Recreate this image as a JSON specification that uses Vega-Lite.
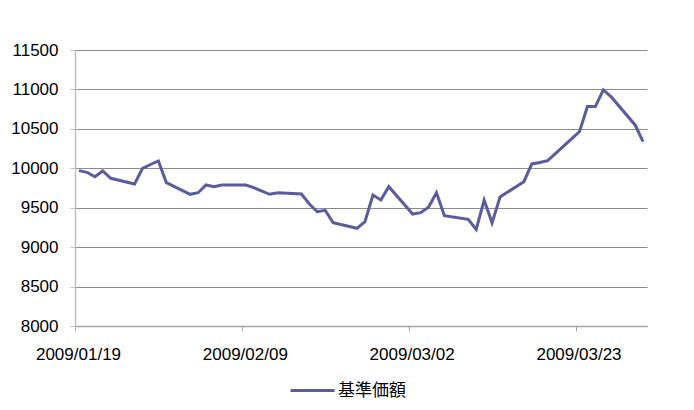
{
  "$schema": "https://vega.github.io/schema/vega-lite/v6.json",
  "width": 572,
  "height": 276,
  "autosize": {"type": "none"},
  "padding": {"left": 75, "top": 50, "right": 47, "bottom": 84},
  "background": "white",
  "config": {
    "view": {"stroke": null},
    "font": "Liberation Sans"
  },
  "data": {
    "values": [
      {"date": "2009/01/19", "value": 9970},
      {"date": "2009/01/20", "value": 9949},
      {"date": "2009/01/21", "value": 9893},
      {"date": "2009/01/22", "value": 9966},
      {"date": "2009/01/23", "value": 9873},
      {"date": "2009/01/26", "value": 9801},
      {"date": "2009/01/27", "value": 10000},
      {"date": "2009/01/28", "value": 10048},
      {"date": "2009/01/29", "value": 10093},
      {"date": "2009/01/30", "value": 9817},
      {"date": "2009/02/02", "value": 9670},
      {"date": "2009/02/03", "value": 9690},
      {"date": "2009/02/04", "value": 9788},
      {"date": "2009/02/05", "value": 9767},
      {"date": "2009/02/06", "value": 9788},
      {"date": "2009/02/09", "value": 9788},
      {"date": "2009/02/10", "value": 9754},
      {"date": "2009/02/12", "value": 9670},
      {"date": "2009/02/13", "value": 9690},
      {"date": "2009/02/16", "value": 9674},
      {"date": "2009/02/17", "value": 9547},
      {"date": "2009/02/18", "value": 9449},
      {"date": "2009/02/19", "value": 9467},
      {"date": "2009/02/20", "value": 9310},
      {"date": "2009/02/23", "value": 9239},
      {"date": "2009/02/24", "value": 9322},
      {"date": "2009/02/25", "value": 9661},
      {"date": "2009/02/26", "value": 9598},
      {"date": "2009/02/27", "value": 9767},
      {"date": "2009/03/02", "value": 9420},
      {"date": "2009/03/03", "value": 9437},
      {"date": "2009/03/04", "value": 9505},
      {"date": "2009/03/05", "value": 9690},
      {"date": "2009/03/06", "value": 9398},
      {"date": "2009/03/09", "value": 9353},
      {"date": "2009/03/10", "value": 9225},
      {"date": "2009/03/11", "value": 9598},
      {"date": "2009/03/12", "value": 9308},
      {"date": "2009/03/13", "value": 9636},
      {"date": "2009/03/16", "value": 9830},
      {"date": "2009/03/17", "value": 10055},
      {"date": "2009/03/18", "value": 10074},
      {"date": "2009/03/19", "value": 10096},
      {"date": "2009/03/23", "value": 10464},
      {"date": "2009/03/24", "value": 10782},
      {"date": "2009/03/25", "value": 10782},
      {"date": "2009/03/26", "value": 10994},
      {"date": "2009/03/27", "value": 10905},
      {"date": "2009/03/30", "value": 10550},
      {"date": "2009/03/31", "value": 10338}
    ]
  },
  "mark": {"type": "line", "strokeWidth": 3, "strokeJoin": "miter"},
  "encoding": {
    "x": {
      "field": "date",
      "type": "temporal",
      "timeUnit": "yearmonthdate",
      "bandPosition": 0.5,
      "title": null,
      "scale": {
        "domain": [{"year": 2009, "month": 1, "date": 19}, {"year": 2009, "month": 4, "date": 1}],
        "nice": false
      },
      "axis": {
        "values": [
          {"year": 2009, "month": 1, "date": 19},
          {"year": 2009, "month": 2, "date": 9},
          {"year": 2009, "month": 3, "date": 2},
          {"year": 2009, "month": 3, "date": 23}
        ],
        "format": "%Y/%m/%d",
        "grid": false,
        "domainColor": "#a6a6a6",
        "domainWidth": 1.5,
        "tickColor": "#a6a6a6",
        "tickSize": 5,
        "labelPadding": 15,
        "labelFontSize": 17,
        "labelColor": "#000000",
        "labelFont": "Liberation Sans",
        "labelAlign": "center",
        "labelOffset": 3
      }
    },
    "y": {
      "field": "value",
      "type": "quantitative",
      "title": null,
      "scale": {"domain": [8000, 11500], "nice": false, "zero": false},
      "axis": {
        "values": [8000, 8500, 9000, 9500, 10000, 10500, 11000, 11500],
        "format": "d",
        "grid": true,
        "gridColor": "#8c8c8c",
        "gridWidth": 1,
        "domainColor": "#c0c0c0",
        "domainWidth": 1.5,
        "tickColor": "#c0c0c0",
        "tickSize": 5,
        "labelPadding": 12,
        "labelFontSize": 17,
        "labelColor": "#000000",
        "labelFont": "Liberation Sans"
      }
    },
    "color": {
      "datum": "基準価額",
      "type": "nominal",
      "scale": {"range": ["#5a5c9c"]},
      "legend": {
        "title": null,
        "orient": "none",
        "legendX": 214,
        "legendY": 317,
        "symbolType": "stroke",
        "symbolSize": 1936,
        "symbolStrokeWidth": 3,
        "labelFont": "Noto Sans CJK JP",
        "labelFontSize": 17,
        "labelColor": "#000000",
        "labelOffset": 2
      }
    }
  }
}
